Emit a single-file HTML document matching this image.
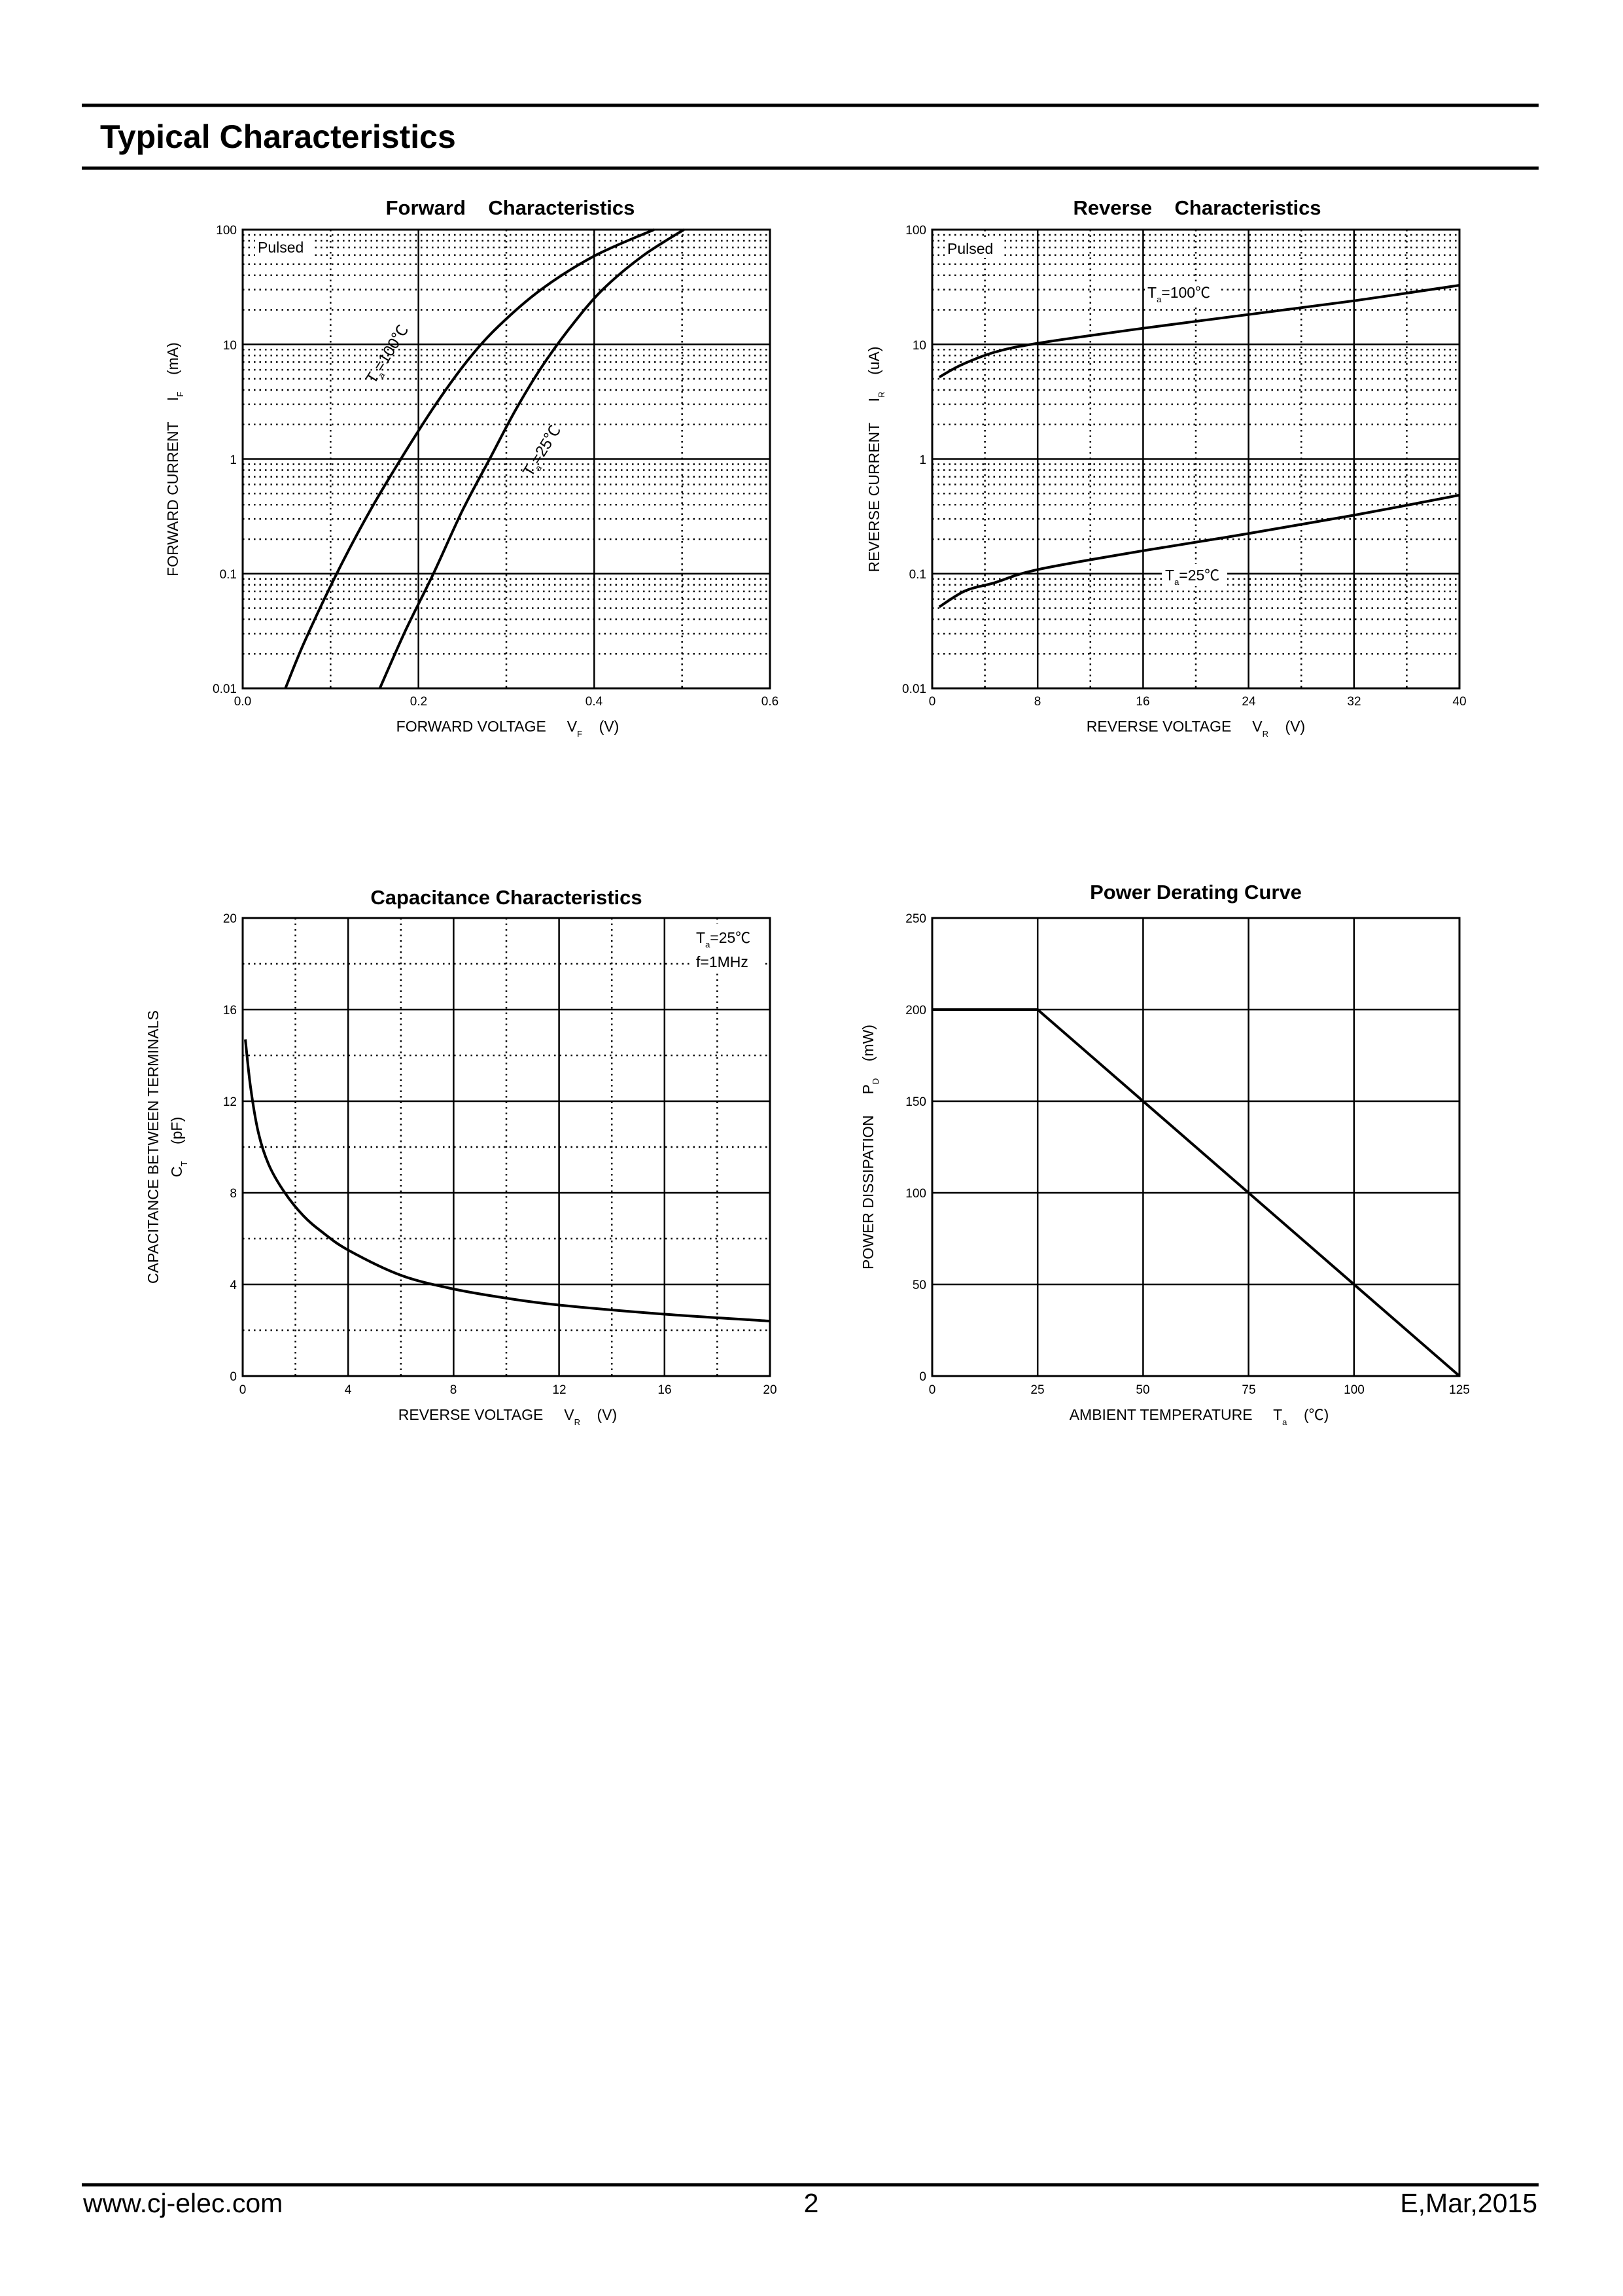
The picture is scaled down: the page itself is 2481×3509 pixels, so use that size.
<!DOCTYPE html>
<html><head><meta charset="utf-8"><style>
html,body{margin:0;padding:0;background:#fff}
svg{display:block}
text{font-family:"Liberation Sans","Noto Sans CJK SC",sans-serif;fill:#000;white-space:pre}
</style></head><body>
<svg id="s" width="2481" height="3509" viewBox="0 0 2481 3509" xmlns="http://www.w3.org/2000/svg" xml:space="preserve">
<rect width="2481" height="3509" fill="#fff"/>
<line x1="125" y1="161" x2="2352" y2="161" stroke="#000" stroke-width="5"/>
<line x1="125" y1="257" x2="2352" y2="257" stroke="#000" stroke-width="5"/>
<text x="153" y="226" font-size="50" font-weight="bold">Typical Characteristics</text>
<line x1="125" y1="3339" x2="2352" y2="3339" stroke="#000" stroke-width="5"/>
<text x="127" y="3381" font-size="41">www.cj-elec.com</text>
<text x="1240" y="3381" font-size="41" text-anchor="middle">2</text>
<text x="2350" y="3381" font-size="41" text-anchor="end">E,Mar,2015</text>
<g id="grid"></g>
<g id="curves" fill="none" stroke="#000" stroke-width="4"></g>

<!-- Forward -->
<text x="780" y="328" font-size="31" font-weight="bold" text-anchor="middle">Forward    Characteristics</text>
<g font-size="19" text-anchor="end">
<text x="362" y="358">100</text><text x="362" y="534">10</text><text x="362" y="709">1</text><text x="362" y="884">0.1</text><text x="362" y="1059">0.01</text>
</g>
<g font-size="19" text-anchor="middle">
<text x="371" y="1078">0.0</text><text x="640" y="1078">0.2</text><text x="908" y="1078">0.4</text><text x="1177" y="1078">0.6</text>
</g>
<text x="776" y="1118" font-size="23" text-anchor="middle">FORWARD VOLTAGE     V<tspan font-size="13" dy="8">F</tspan><tspan dy="-8">    (V)</tspan></text>
<text transform="translate(272,702) rotate(-90)" font-size="23" text-anchor="middle">FORWARD CURRENT     I<tspan font-size="13" dy="8">F</tspan><tspan dy="-8">    (mA)</tspan></text>
<rect x="390" y="364" width="88" height="28" fill="#fff"/>
<text x="394" y="386" font-size="23">Pulsed</text>
<text transform="translate(572,588) rotate(-58)" font-size="24">T<tspan font-size="13" dy="6">a</tspan><tspan dy="-6">=100℃</tspan></text>
<text transform="translate(812,730) rotate(-58)" font-size="24">T<tspan font-size="13" dy="6">a</tspan><tspan dy="-6">=25℃</tspan></text>

<!-- Reverse -->
<text x="1830" y="328" font-size="31" font-weight="bold" text-anchor="middle">Reverse    Characteristics</text>
<g font-size="19" text-anchor="end">
<text x="1416" y="358">100</text><text x="1416" y="534">10</text><text x="1416" y="709">1</text><text x="1416" y="884">0.1</text><text x="1416" y="1059">0.01</text>
</g>
<g font-size="19" text-anchor="middle">
<text x="1425" y="1078">0</text><text x="1586" y="1078">8</text><text x="1747" y="1078">16</text><text x="1909" y="1078">24</text><text x="2070" y="1078">32</text><text x="2231" y="1078">40</text>
</g>
<text x="1828" y="1118" font-size="23" text-anchor="middle">REVERSE VOLTAGE     V<tspan font-size="13" dy="8">R</tspan><tspan dy="-8">    (V)</tspan></text>
<text transform="translate(1344,702) rotate(-90)" font-size="23" text-anchor="middle">REVERSE CURRENT     I<tspan font-size="13" dy="8">R</tspan><tspan dy="-8">    (uA)</tspan></text>
<rect x="1444" y="366" width="86" height="28" fill="#fff"/>
<text x="1448" y="388" font-size="23">Pulsed</text>
<rect x="1750" y="430" width="112" height="34" fill="#fff"/>
<text x="1754" y="455" font-size="23">T<tspan font-size="13" dy="7">a</tspan><tspan dy="-7">=100℃</tspan></text>
<rect x="1776" y="862" width="100" height="34" fill="#fff"/>
<text x="1781" y="887" font-size="23">T<tspan font-size="13" dy="7">a</tspan><tspan dy="-7">=25℃</tspan></text>

<!-- Capacitance -->
<text x="774" y="1382" font-size="31" font-weight="bold" text-anchor="middle">Capacitance Characteristics</text>
<g font-size="19" text-anchor="end">
<text x="362" y="1410">20</text><text x="362" y="1550">16</text><text x="362" y="1690">12</text><text x="362" y="1830">8</text><text x="362" y="1970">4</text><text x="362" y="2110">0</text>
</g>
<g font-size="19" text-anchor="middle">
<text x="371" y="2130">0</text><text x="532" y="2130">4</text><text x="693" y="2130">8</text><text x="855" y="2130">12</text><text x="1016" y="2130">16</text><text x="1177" y="2130">20</text>
</g>
<text x="776" y="2170" font-size="23" text-anchor="middle">REVERSE VOLTAGE     V<tspan font-size="13" dy="8">R</tspan><tspan dy="-8">    (V)</tspan></text>
<text transform="translate(242,1753) rotate(-90)" font-size="23" text-anchor="middle">CAPACITANCE BETWEEN TERMINALS</text>
<text transform="translate(278,1753) rotate(-90)" font-size="23" text-anchor="middle">C<tspan font-size="13" dy="8">T</tspan><tspan dy="-8">    (pF)</tspan></text>
<rect x="1058" y="1412" width="110" height="70" fill="#fff"/>
<text x="1064" y="1441" font-size="23">T<tspan font-size="13" dy="7">a</tspan><tspan dy="-7">=25℃</tspan></text>
<text x="1064" y="1478" font-size="23">f=1MHz</text>

<!-- Power -->
<text x="1828" y="1374" font-size="31" font-weight="bold" text-anchor="middle">Power Derating Curve</text>
<g font-size="19" text-anchor="end">
<text x="1416" y="1410">250</text><text x="1416" y="1550">200</text><text x="1416" y="1690">150</text><text x="1416" y="1830">100</text><text x="1416" y="1970">50</text><text x="1416" y="2110">0</text>
</g>
<g font-size="19" text-anchor="middle">
<text x="1425" y="2130">0</text><text x="1586" y="2130">25</text><text x="1747" y="2130">50</text><text x="1909" y="2130">75</text><text x="2070" y="2130">100</text><text x="2231" y="2130">125</text>
</g>
<text x="1833" y="2170" font-size="23" text-anchor="middle">AMBIENT TEMPERATURE     T<tspan font-size="13" dy="8">a</tspan><tspan dy="-8">    (℃)</tspan></text>
<text transform="translate(1335,1753) rotate(-90)" font-size="23" text-anchor="middle">POWER DISSIPATION     P<tspan font-size="13" dy="8">D</tspan><tspan dy="-8">    (mW)</tspan></text>
</svg>
<script>
(function(){
var NS="http://www.w3.org/2000/svg";
var g=document.getElementById('grid'),c=document.getElementById('curves');
function ln(p,x1,y1,x2,y2,dot,w){var e=document.createElementNS(NS,'line');e.setAttribute('x1',x1);e.setAttribute('y1',y1);e.setAttribute('x2',x2);e.setAttribute('y2',y2);e.setAttribute('stroke','#000');e.setAttribute('stroke-width',w||2.5);if(dot)e.setAttribute('stroke-dasharray','2.5 6');p.insertBefore(e,p.firstChild);}
function box(x,y,w,h){var r=document.createElementNS(NS,'rect');r.setAttribute('x',x);r.setAttribute('y',y);r.setAttribute('width',w);r.setAttribute('height',h);r.setAttribute('fill','none');r.setAttribute('stroke','#000');r.setAttribute('stroke-width',3);g.appendChild(r);}
function path(pts){var d='M'+pts[0][0].toFixed(1)+','+pts[0][1].toFixed(1);
for(var i=0;i<pts.length-1;i++){var p0=pts[i-1]||pts[i],p1=pts[i],p2=pts[i+1],p3=pts[i+2]||p2;
d+='C'+(p1[0]+(p2[0]-p0[0])/6).toFixed(1)+','+(p1[1]+(p2[1]-p0[1])/6).toFixed(1)+' '+(p2[0]-(p3[0]-p1[0])/6).toFixed(1)+','+(p2[1]-(p3[1]-p1[1])/6).toFixed(1)+' '+p2[0].toFixed(1)+','+p2[1].toFixed(1);}
var e=document.createElementNS(NS,'path');e.setAttribute('d',d);c.appendChild(e);}
var W=806,H=701,DEC=H/4;
function logGrid(x0,y0,vsolid,vdot){
 for(var k=0;k<4;k++){var yb=y0+H-k*DEC;if(k>0)ln(g,x0,yb,x0+W,yb,false);
  for(var m=2;m<=9;m++){var y=yb-Math.log10(m)*DEC;ln(g,x0,y,x0+W,y,true);}}
 vsolid.forEach(function(x){ln(g,x,y0,x,y0+H,false);});
 vdot.forEach(function(x){ln(g,x,y0,x,y0+H,true);});
 box(x0,y0,W,H);}
var fx=function(v){return 371+v*W/0.6},fy=function(l){return 1052-(l+2)*DEC};
logGrid(371,351,[fx(0.2),fx(0.4)],[fx(0.1),fx(0.3),fx(0.5)]);
path([[0.0486,-2],[0.07,-1.6],[0.107,-1],[0.145,-0.45],[0.184,0.05],[0.22,0.48],[0.255,0.85],[0.29,1.15],[0.34,1.48],[0.4,1.77],[0.468,2]].map(function(p){return[fx(p[0]),fy(p[1])]}));
path([[0.156,-2],[0.185,-1.5],[0.217,-1],[0.25,-0.45],[0.281,0],[0.31,0.42],[0.34,0.8],[0.375,1.17],[0.41,1.48],[0.455,1.77],[0.502,2]].map(function(p){return[fx(p[0]),fy(p[1])]}));
var rx=function(v){return 1425+v*W/40};
logGrid(1425,351,[rx(8),rx(16),rx(24),rx(32)],[rx(4),rx(12),rx(20),rx(28),rx(36)]);
path([[0.53,0.713],[2.2,0.82],[4.7,0.93],[8.05,1.01],[16,1.14],[24,1.26],[32,1.38],[40,1.515]].map(function(p){return[rx(p[0]),fy(p[1])]}));
path([[0.53,-1.29],[2.5,-1.15],[4.7,-1.08],[8.05,-0.963],[16,-0.8],[24,-0.65],[32,-0.49],[40,-0.315]].map(function(p){return[rx(p[0]),fy(p[1])]}));
var cx=function(v){return 371+v*W/20},cy=function(v){return 2103-v*35};
[4,8,12,16].forEach(function(v){ln(g,cx(v),1403,cx(v),2103,false);ln(g,371,cy(v),1177,cy(v),false);});
[2,6,10,14,18].forEach(function(v){ln(g,cx(v),1403,cx(v),2103,true);ln(g,371,cy(v),1177,cy(v),true);});
box(371,1403,W,700);
path([[0.1,14.7],[0.3,12.6],[0.6,10.6],[1,9.2],[1.6,8],[2.3,7],[3,6.3],[4,5.5],[6,4.4],[8,3.8],[10,3.4],[12,3.1],[16,2.7],[20,2.4]].map(function(p){return[cx(p[0]),cy(p[1])]}));
var px=function(v){return 1425+v*W/125},py=function(v){return 2103-v*2.8};
[25,50,75,100].forEach(function(v){ln(g,px(v),1403,px(v),2103,false);});
[50,100,150,200].forEach(function(v){ln(g,1425,py(v),2231,py(v),false);});
box(1425,1403,W,700);
var e=document.createElementNS(NS,'polyline');e.setAttribute('points',px(0)+','+py(200)+' '+px(25)+','+py(200)+' '+px(125)+','+py(0));c.appendChild(e);
})();
</script>
</body></html>
